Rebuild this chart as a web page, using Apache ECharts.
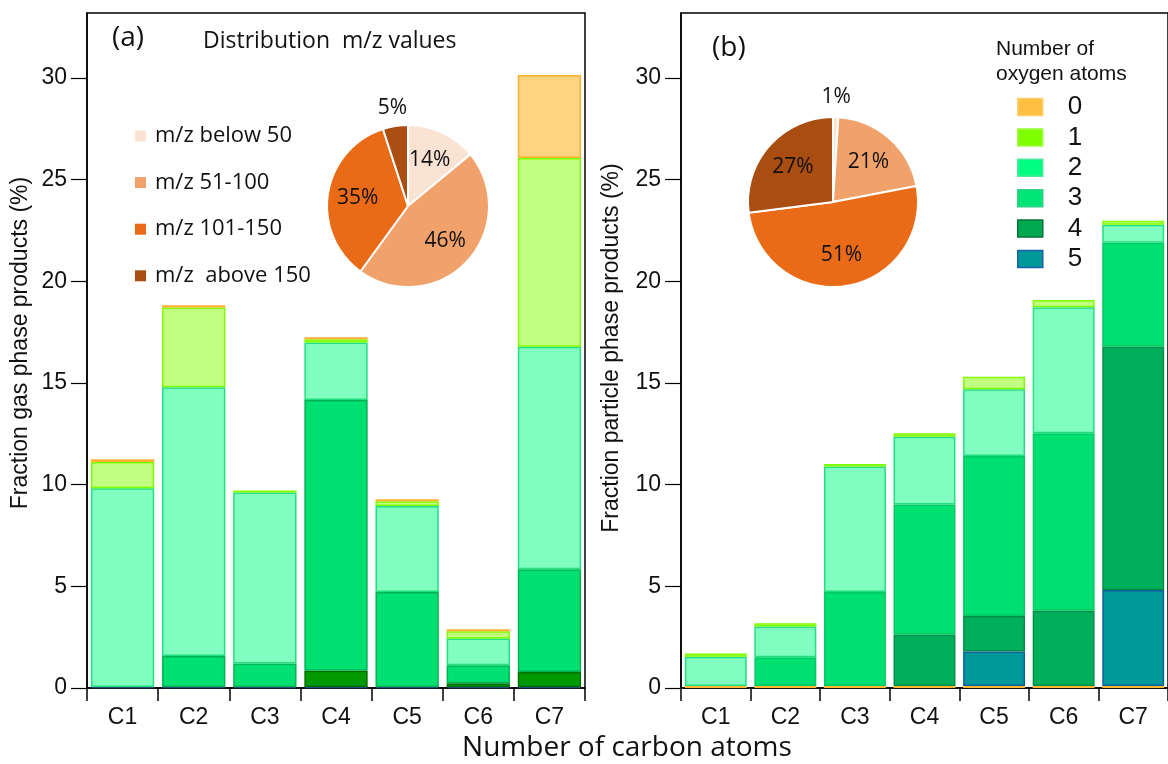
<!DOCTYPE html>
<html>
<head>
<meta charset="utf-8">
<script src="https://cdn.jsdelivr.net/npm/echarts@6/dist/echarts.min.js"></script>
<style>html,body{margin:0;padding:0;background:#fff}#c{width:1168px;height:764px}</style>
</head>
<body>
<div id="c"></div>
<script>
// ---- data ----
const categories = ['C1', 'C2', 'C3', 'C4', 'C5', 'C6', 'C7'];
const yTicks = [0, 5, 10, 15, 20, 25, 30];
const oxygenNames = ['0', '1', '2', '3', '4', '5'];

// gas phase (a): fraction per oxygen count
const gasO5 = [0.05, 0.05, 0.05, 0.05, 0.05, 0.05, 0.05];
const gasO4 = [0, 0, 0, 0.8, 0, 0.18, 0.74];
const gasO3 = [0, 1.52, 1.16, 13.32, 4.67, 0.89, 5.05];
const gasO2 = [9.77, 13.22, 8.4, 2.82, 4.23, 1.31, 10.95];
const gasO1 = [1.3, 3.93, 0.1, 0.16, 0.23, 0.36, 9.28];
const gasO0 = [0.13, 0.1, 0, 0.1, 0.1, 0.1, 4.08];

// particle phase (b)
const partO0 = [0.1, 0.1, 0.1, 0.1, 0.1, 0.1, 0.1];
const partO5 = [0, 0, 0, 0, 1.69, 0, 4.72];
const partO4 = [0, 0, 0, 2.52, 1.75, 3.7, 11.97];
const partO3 = [0, 1.41, 4.62, 6.4, 7.87, 8.73, 5.11];
const partO2 = [1.44, 1.51, 6.17, 3.34, 3.28, 6.2, 0.89];
const partO1 = [0.16, 0.16, 0.13, 0.17, 0.62, 0.35, 0.19];

// m/z distribution pies
const mzNames = ['m/z below 50', 'm/z 51-100', 'm/z 101-150', 'm/z  above 150'];
const gasPie = [14, 46, 35, 5];
const partPie = [1, 21, 51, 27];

// ---- styles ----
const pieColors = ['#FBE3D4', '#F1A16A', '#EA6B17', '#A94E10'];
const gasStyle = {
  '5': ['#3A6EA5', '#1F4E79'],
  '4': ['#009A00', '#007000'],
  '3': ['#00E070', '#00B452'],
  '2': ['#80FFC0', '#20E080'],
  '1': ['#C0FF80', '#80FF00'],
  '0': ['#FFD480', '#FFB030']
};
const partStyle = {
  '0': ['#FFC850', '#FFB830'],
  '5': ['#009999', '#1060A0'],
  '4': ['#00AF5A', '#008E48'],
  '3': ['#00E070', '#00C862'],
  '2': ['#80FFC0', '#20E080'],
  '1': ['#C0FF80', '#80FF00']
};
const legendStyle = {
  '0': ['#FFBF40', '#FFD070'],
  '1': ['#80FF00', '#A0FF40'],
  '2': ['#00FF80', '#50E8A0'],
  '3': ['#00E676', '#30D088'],
  '4': ['#00A850', '#00743A'],
  '5': ['#009999', '#1A5FAA']
};

const SANS = '"Liberation Sans", Arial, sans-serif';
const NARROW = '"Liberation Sans Narrow", "Arial Narrow", "Liberation Sans", sans-serif';
const HUM = '"Open Sans", sans-serif';

const pieGeom = [
  { center: [408, 206], r: 81, vals: gasPie },
  { center: [833, 202], r: 85, vals: partPie }
];

function barSeries(name, vals, style, idx, stack) {
  return {
    type: 'bar', name: name, stack: stack,
    data: vals.map(v => (v === 0 ? '-' : v)),
    xAxisIndex: idx, yAxisIndex: idx, barCategoryGap: '11%',
    itemStyle: { color: style[0], borderColor: style[1], borderWidth: 1.5 },
    emphasis: { disabled: true }, silent: true
  };
}

function pieSeries(p) {
  return {
    type: 'pie', center: p.center, radius: p.r, startAngle: 90, clockwise: true,
    silent: true, emphasis: { disabled: true },
    data: mzNames.map((n, i) => ({ name: n, value: p.vals[i], itemStyle: { color: pieColors[i] } })),
    itemStyle: { borderColor: '#fff', borderWidth: 2 },
    label: { show: true, position: 'inside', formatter: '{c}%', fontFamily: HUM, fontSize: 21, color: '#111' },
    labelLine: { show: false },
    labelLayout: function (params) {
      const lr = params.labelRect;
      const lx = lr.x + lr.width / 2, ly = lr.y + lr.height / 2;
      const vx = lx - p.center[0], vy = ly - p.center[1];
      const d = Math.sqrt(vx * vx + vy * vy) || 1;
      const target = p.vals[params.dataIndex] < 8 ? 1.23 * p.r : 0.63 * p.r;
      return { dx: vx / d * target - vx, dy: vy / d * target - vy };
    }
  };
}

const gridL = { left: 87, top: 13, width: 498, height: 675 };
const gridR = { left: 681, top: 13, width: 490, height: 675 };

function xAx(idx) {
  return {
    type: 'category', gridIndex: idx, data: categories, boundaryGap: true,
    axisLine: { lineStyle: { color: '#000', width: 1.5 } },
    axisTick: { show: true, interval: 0, length: 13, lineStyle: { color: '#000', width: 1.5 } },
    axisLabel: { margin: 18, fontFamily: NARROW, fontSize: 23, color: '#111' }
  };
}
function yAx(idx) {
  return {
    type: 'value', gridIndex: idx, min: 0, max: 33.2, interval: 5,
    axisLine: { show: true, lineStyle: { color: '#000', width: 1.5 } },
    axisTick: { show: true, length: 16, customValues: yTicks, lineStyle: { color: '#000', width: 1.2 } },
    axisLabel: { margin: 20, fontFamily: NARROW, fontSize: 23, color: '#111', customValues: yTicks },
    splitLine: { show: false }
  };
}

const option = {
  animation: false,
  backgroundColor: '#fff',
  grid: [
    Object.assign({ show: true, borderColor: '#000', borderWidth: 1.5 }, gridL),
    Object.assign({ show: true, borderColor: '#000', borderWidth: 1.5 }, gridR)
  ],
  xAxis: [xAx(0), xAx(1)],
  yAxis: [yAx(0), yAx(1)],
  legend: [
    {
      data: mzNames, orient: 'vertical', left: 130, top: 119, selectedMode: false,
      icon: 'rect', itemWidth: 11, itemHeight: 11, itemGap: 22.6,
      itemStyle: { borderWidth: 0 },
      textStyle: { fontFamily: HUM, fontSize: 22, lineHeight: 24, color: '#111', padding: [0, 0, 0, 4] }
    },
    {
      data: oxygenNames.map(n => ({ name: n, itemStyle: { color: legendStyle[n][0], borderColor: legendStyle[n][1], borderWidth: 1.5 } })),
      orient: 'vertical', left: 1012, top: 89, selectedMode: false,
      icon: 'rect', itemWidth: 25, itemHeight: 17, itemGap: 4.4,
      textStyle: { fontFamily: SANS, fontSize: 26, lineHeight: 26, color: '#111', padding: [0, 0, 0, 20] }
    }
  ],
  graphic: [
    { type: 'text', x: 112, y: 38, style: { text: '(a)', fontFamily: HUM, fontSize: 28, fill: '#111', verticalAlign: 'middle' } },
    { type: 'text', x: 203, y: 41, style: { text: 'Distribution  m/z values', fontFamily: HUM, fontSize: 23, fill: '#111', verticalAlign: 'middle' } },
    { type: 'text', x: 712, y: 48, style: { text: '(b)', fontFamily: HUM, fontSize: 28, fill: '#111', verticalAlign: 'middle' } },
    { type: 'text', x: 996, y: 37, style: { text: 'Number of\noxygen atoms', fontFamily: SANS, fontSize: 21, lineHeight: 25, fill: '#111' } },
    { type: 'text', x: 627, y: 748, style: { text: 'Number of carbon atoms', fontFamily: HUM, fontSize: 28, fill: '#111', align: 'center', verticalAlign: 'middle' } },
    { type: 'text', x: 21, y: 343, rotation: Math.PI / 2, style: { text: 'Fraction gas phase products (%)', fontFamily: NARROW, fontSize: 23, fill: '#111', align: 'center', verticalAlign: 'middle' } },
    { type: 'text', x: 612, y: 348, rotation: Math.PI / 2, style: { text: 'Fraction particle phase products (%)', fontFamily: NARROW, fontSize: 23, fill: '#111', align: 'center', verticalAlign: 'middle' } }
  ],
  series: [
    barSeries('g5', gasO5, gasStyle['5'], 0, 'gas'),
    barSeries('g4', gasO4, gasStyle['4'], 0, 'gas'),
    barSeries('g3', gasO3, gasStyle['3'], 0, 'gas'),
    barSeries('g2', gasO2, gasStyle['2'], 0, 'gas'),
    barSeries('g1', gasO1, gasStyle['1'], 0, 'gas'),
    barSeries('g0', gasO0, gasStyle['0'], 0, 'gas'),
    barSeries('0', partO0, partStyle['0'], 1, 'part'),
    barSeries('5', partO5, partStyle['5'], 1, 'part'),
    barSeries('4', partO4, partStyle['4'], 1, 'part'),
    barSeries('3', partO3, partStyle['3'], 1, 'part'),
    barSeries('2', partO2, partStyle['2'], 1, 'part'),
    barSeries('1', partO1, partStyle['1'], 1, 'part'),
    pieSeries(pieGeom[0]),
    pieSeries(pieGeom[1])
  ]
};

const chart = echarts.init(document.getElementById('c'), null, { renderer: 'canvas' });
chart.setOption(option);
</script>
</body>
</html>
